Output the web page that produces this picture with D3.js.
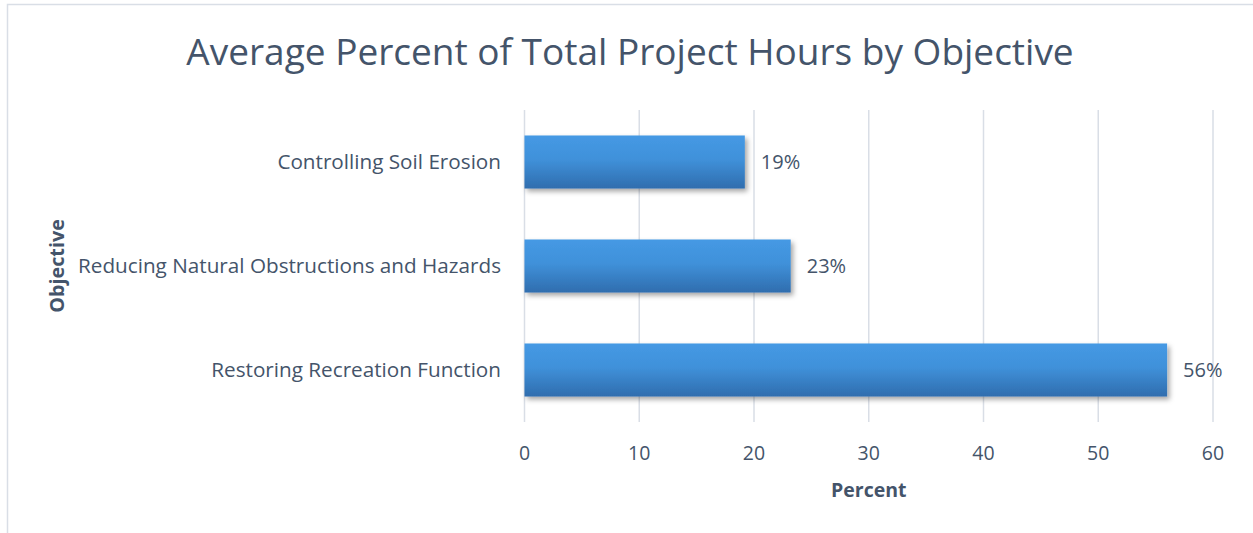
<!DOCTYPE html>
<html><head><meta charset="utf-8">
<script src="https://cdn.jsdelivr.net/npm/d3@7"></script>
<style>
html,body{margin:0;padding:0;background:#fff;}
svg text{font-family:"Open Sans","Lato",sans-serif;}
</style></head>
<body>
<svg id="c" width="1253" height="533"></svg>
<script>
const categories = ["Controlling Soil Erosion","Reducing Natural Obstructions and Hazards","Restoring Recreation Function"];
const values = [19.2, 23.2, 56.0];
const valueLabels = ["19%","23%","56%"];
const xTicks = [0,10,20,30,40,50,60];
const title = "Average Percent of Total Project Hours by Objective";
const xTitle = "Percent";
const yTitle = "Objective";

const svg = d3.select("#c");
const txt = "#44546A";
const m = {left:524.5, right:1213, top:110, bottom:422};

// chart border
svg.append("path").attr("d","M7.5,533 V4.5 H1253").attr("fill","none").attr("stroke","#D9DEE6").attr("stroke-width",1.5);

const defs = svg.append("defs");
const g = defs.append("linearGradient").attr("id","bg").attr("x1",0).attr("y1",0).attr("x2",0).attr("y2",1);
g.append("stop").attr("offset","0%").attr("stop-color","#4599E4");
g.append("stop").attr("offset","45%").attr("stop-color","#4091DA");
g.append("stop").attr("offset","100%").attr("stop-color","#2F6DAE");
const f = defs.append("filter").attr("id","sh").attr("x","-5%").attr("y","-20%").attr("width","115%").attr("height","160%");
f.append("feDropShadow").attr("dx",2.5).attr("dy",3).attr("stdDeviation",2.5).attr("flood-color","#000").attr("flood-opacity",0.35);

const x = d3.scaleLinear().domain([0,60]).range([m.left,m.right]);
const y = d3.scaleBand().domain(categories).range([m.top,m.bottom]).paddingInner(0.49).paddingOuter(0.245);

// gridlines
svg.append("g").selectAll("line").data(xTicks).join("line")
  .attr("x1",d=>x(d)).attr("x2",d=>x(d)).attr("y1",m.top).attr("y2",m.bottom)
  .attr("stroke","#D9DEE6").attr("stroke-width",1.5);

// x tick labels
svg.append("g").selectAll("text").data(xTicks).join("text")
  .attr("x",d=>x(d)).attr("y",460).attr("text-anchor","middle")
  .attr("font-size",19.5).attr("fill",txt).text(d=>d);

// bars
svg.append("g").selectAll("rect").data(categories).join("rect")
  .attr("x",x(0)).attr("y",d=>y(d)).attr("height",y.bandwidth())
  .attr("width",(d,i)=>x(values[i])-x(0))
  .attr("fill","url(#bg)").attr("filter","url(#sh)");

// value labels
svg.append("g").selectAll("text").data(categories).join("text")
  .attr("x",(d,i)=>x(values[i])+16).attr("y",d=>y(d)+y.bandwidth()/2+7)
  .attr("font-size",20).attr("fill",txt).text((d,i)=>valueLabels[i]);

// category labels
svg.append("g").selectAll("text").data(categories).join("text")
  .attr("x",501).attr("y",d=>y(d)+y.bandwidth()/2+7).attr("text-anchor","end")
  .attr("font-size",20.7).attr("fill",txt).text(d=>d);

// title
svg.append("text").attr("x",630).attr("y",65).attr("text-anchor","middle")
  .attr("font-size",37).attr("fill",txt).text(title);

// axis titles
svg.append("text").attr("x",(m.left+m.right)/2).attr("y",497).attr("text-anchor","middle")
  .attr("font-size",19.5).attr("font-weight","bold").attr("fill",txt).text(xTitle);
svg.append("text").attr("transform","translate(64,266) rotate(-90)").attr("text-anchor","middle")
  .attr("font-size",19.8).attr("font-weight","bold").attr("fill",txt).text(yTitle);
</script>
</body></html>
